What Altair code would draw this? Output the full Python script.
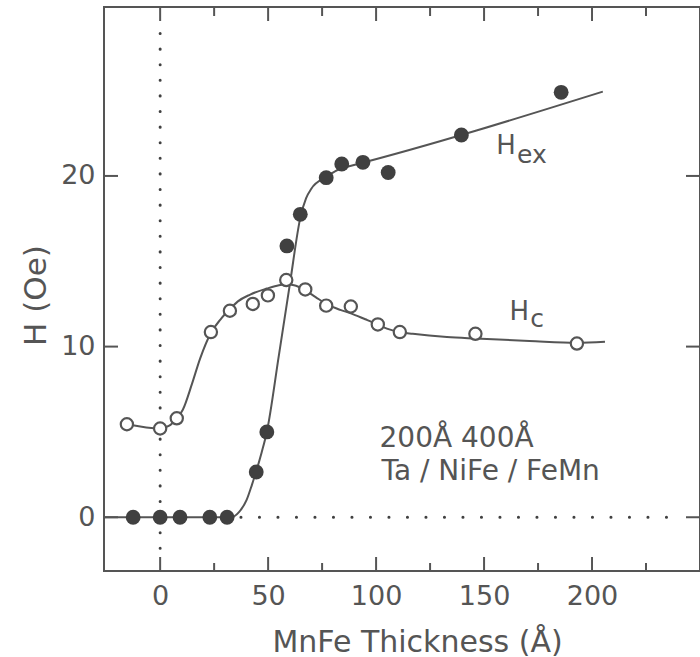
import altair as alt
import pandas as pd

# ---- data ----
hex_x = [-12.5, 0, 9.2, 23, 31, 44.5, 49.4, 58.7, 64.9, 76.9, 84.1, 93.9, 105.6, 139.5, 185.7]
hex_y = [0, 0, 0, 0, 0, 2.65, 5.0, 15.9, 17.75, 19.9, 20.7, 20.8, 20.2, 22.4, 24.9]

hc_x = [-15.4, 0, 7.7, 23.5, 32.3, 42.9, 49.9, 58.4, 67.2, 76.9, 88.3, 100.8, 111, 146, 193]
hc_y = [5.45, 5.2, 5.8, 10.85, 12.1, 12.5, 13.0, 13.9, 13.35, 12.4, 12.35, 11.3, 10.85, 10.75, 10.18]

hexfit_x = [-26, 33, 36.5, 40, 42.5, 44.5, 47, 49.4, 55, 60, 65, 67.6, 70, 77, 84, 88, 205]
hexfit_y = [0, 0, 0.3, 1.0, 1.9, 2.7, 3.8, 5.0, 9.5, 13.6, 17.6, 18.7, 19.25, 19.95, 20.45, 20.58, 24.94]

hcfit_x = [-15.4, 0, 4, 7.7, 10.5, 14.7, 18.5, 23.5, 28, 32.3, 36, 41.7, 49.4, 55, 58.4, 62,
           67.2, 72, 76.9, 83.4, 88.3, 95, 100.6, 105, 111, 117, 132.8, 146, 171, 193, 206]
hcfit_y = [5.45, 5.2, 5.35, 5.8, 6.3, 7.8, 9.3, 10.8, 11.6, 12.2, 12.65, 13.05, 13.4, 13.6, 13.65, 13.6,
           13.3, 12.9, 12.5, 12.15, 11.95, 11.6, 11.3, 11.05, 10.85, 10.75, 10.56, 10.47, 10.33, 10.22, 10.28]

x_labels = [0, 50, 100, 150, 200]
x_minor = [25, 75, 125, 175, 225]
y_labels = [0, 10, 20]

# ---- style ----
FONT = "DejaVu Sans"
INK = "#555555"
DARK = "#404040"
W, H = 596, 564

xs = alt.Scale(domain=[-26, 250], nice=False, zero=False)
ys = alt.Scale(domain=[-3.15, 29.9], nice=False, zero=False)

x_axis = alt.Axis(values=x_labels, ticks=False, domain=False, grid=False,
                  labelFont=FONT, labelFontSize=27, labelColor=INK, labelPadding=12,
                  titleFont=FONT, titleFontSize=30, titleColor=INK, titleFontWeight="normal",
                  titleX=313, titleY=80, titleBaseline="alphabetic", titleAlign="center")
y_axis = alt.Axis(values=y_labels, ticks=False, domain=False, grid=False,
                  labelFont=FONT, labelFontSize=27, labelColor=INK, labelPadding=9,
                  titleFont=FONT, titleFontSize=31, titleColor=INK, titleFontWeight="normal",
                  titleAngle=270, titleX=-59, titleY=288, titleBaseline="alphabetic",
                  titleAlign="center")

XT = "MnFe Thickness (Å)"
YT = "H (Oe)"


def X(f):
    return alt.X(f, type="quantitative", scale=xs, axis=x_axis, title=XT)


def Y(f):
    return alt.Y(f, type="quantitative", scale=ys, axis=y_axis, title=YT)


hex_df = pd.DataFrame({"x": hex_x, "y": hex_y})
hc_df = pd.DataFrame({"x": hc_x, "y": hc_y})
hexfit_df = pd.DataFrame({"x": hexfit_x, "y": hexfit_y, "o": range(len(hexfit_x))})
hcfit_df = pd.DataFrame({"x": hcfit_x, "y": hcfit_y, "o": range(len(hcfit_x))})

lines = [
    alt.Chart(hexfit_df).mark_line(color=INK, strokeWidth=2, interpolate="monotone").encode(
        x=X("x"), y=Y("y"), order="o:Q"),
    alt.Chart(hcfit_df).mark_line(color=INK, strokeWidth=2, interpolate="monotone").encode(
        x=X("x"), y=Y("y"), order="o:Q"),
]

# dotted reference lines
vdot = alt.Chart(pd.DataFrame({"x": [0], "y": [28.35], "y2": [-1.93]})).mark_rule(
    color=DARK, strokeWidth=3, strokeCap="round", strokeDash=[0.1, 15.5]).encode(
    x=X("x"), y=Y("y"), y2="y2")
hdot = alt.Chart(pd.DataFrame({"y": [0], "x": [37.4], "x2": [243]})).mark_rule(
    color=DARK, strokeWidth=3, strokeCap="round", strokeDash=[0.1, 18.4]).encode(
    y=Y("y"), x=X("x"), x2="x2")

pts = [
    alt.Chart(hc_df).mark_point(shape="circle", filled=True, fill="white", stroke=INK,
                                strokeWidth=2.2, size=150, opacity=1).encode(x=X("x"), y=Y("y")),
    alt.Chart(hex_df).mark_point(shape="circle", filled=True, color=DARK, size=220,
                                 opacity=1).encode(x=X("x"), y=Y("y")),
]

# inward ticks
xmaj = pd.DataFrame({"t": x_labels})
xmin = pd.DataFrame({"t": x_minor})
ymaj = pd.DataFrame({"t": y_labels})
ticks = [
    alt.Chart(xmaj).mark_rule(color=INK, strokeWidth=2).encode(
        x=X("t"), y=alt.value(H), y2=alt.value(H - 14)),
    alt.Chart(xmin).mark_rule(color=INK, strokeWidth=2).encode(
        x=X("t"), y=alt.value(H), y2=alt.value(H - 8)),
    alt.Chart(xmaj).mark_rule(color=INK, strokeWidth=2).encode(
        x=X("t"), y=alt.value(0), y2=alt.value(14)),
    alt.Chart(xmin).mark_rule(color=INK, strokeWidth=2).encode(
        x=X("t"), y=alt.value(0), y2=alt.value(9)),
    alt.Chart(ymaj).mark_rule(color=INK, strokeWidth=2).encode(
        y=Y("t"), x=alt.value(0), x2=alt.value(14)),
    alt.Chart(ymaj).mark_rule(color=INK, strokeWidth=2).encode(
        y=Y("t"), x=alt.value(W), x2=alt.value(W - 14)),
]

# text annotations (positions in data units)
ann_big = pd.DataFrame({"x": [155.6, 161.8], "y": [21.3, 11.54], "t": ["H", "H"]})
ann_sub = pd.DataFrame({"x": [165.3, 171.4], "y": [20.74, 11.13], "t": ["ex", "c"]})
ann_note = pd.DataFrame({"x": [101.6, 102.5], "y": [4.1, 2.17],
                         "t": ["200Å 400Å", "Ta / NiFe / FeMn"]})

texts = [
    alt.Chart(ann_big).mark_text(align="left", baseline="alphabetic", font=FONT, fontSize=26,
                                 color=INK).encode(x=X("x"), y=Y("y"), text="t:N"),
    alt.Chart(ann_sub).mark_text(align="left", baseline="alphabetic", font=FONT, fontSize=25,
                                 color=INK).encode(x=X("x"), y=Y("y"), text="t:N"),
    alt.Chart(ann_note).mark_text(align="left", baseline="alphabetic", font=FONT, fontSize=28,
                                  color=INK).encode(x=X("x"), y=Y("y"), text="t:N"),
]

chart = alt.layer(*lines, vdot, hdot, *pts, *ticks, *texts).properties(
    width=W, height=H,
    padding={"left": 104, "top": 7, "right": 0, "bottom": 86},
    autosize=alt.AutoSizeParams(type="none"),
    background="white",
).configure_view(stroke=INK, strokeWidth=2)

chart.save("out.html", embed_options={"renderer": "svg", "actions": False})
